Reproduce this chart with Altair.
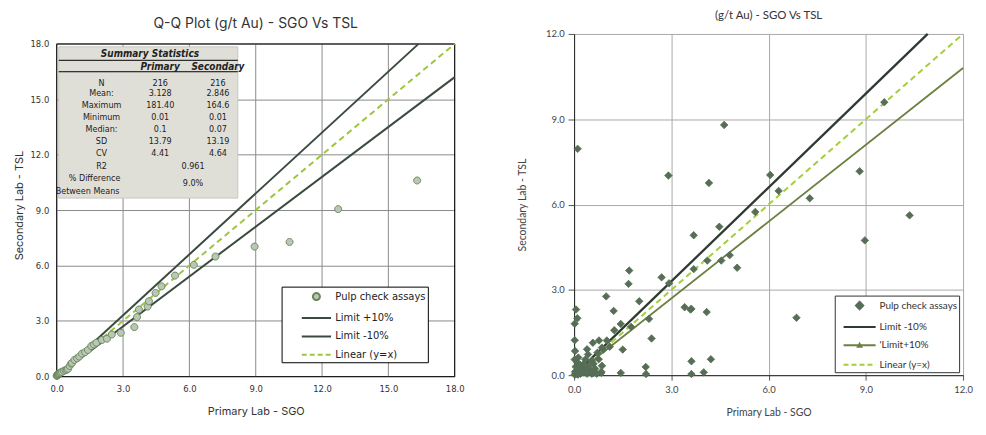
import altair as alt
import pandas as pd

# ---------------- data: left panel (Q-Q plot) ----------------
qq_sgo = [0.00, 0.01, 0.02, 0.03, 0.05, 0.06, 0.08, 0.10, 0.12, 0.15,
          0.18, 0.24, 0.32, 0.40, 0.46, 0.51, 0.58, 0.65, 0.69, 0.80,
          0.92, 1.02, 1.14, 1.28, 1.41, 1.56, 1.68, 1.79, 2.04, 2.27,
          2.49, 2.90, 3.51, 3.63, 3.72, 4.11, 4.17, 4.47, 4.74, 5.35,
          6.20, 7.18, 8.95, 10.53, 12.73, 16.30]
qq_tsl = [0.02, 0.03, 0.05, 0.06, 0.08, 0.11, 0.12, 0.13, 0.16, 0.18,
          0.20, 0.23, 0.29, 0.33, 0.36, 0.40, 0.55, 0.68, 0.72, 0.88,
          0.97, 1.06, 1.22, 1.30, 1.42, 1.63, 1.72, 1.81, 1.96, 2.03,
          2.26, 2.35, 2.66, 3.20, 3.61, 3.77, 4.06, 4.51, 4.87, 5.45,
          6.03, 6.48, 7.02, 7.27, 9.05, 10.60]

# ---------------- data: right panel (scatter) ----------------
pulp_sgo = [0.11, 2.91, 4.63, 4.16, 6.05, 6.31, 5.59, 4.48, 3.69, 7.27,
            8.81, 10.35, 8.97, 9.57, 4.80, 4.54, 4.11, 5.03, 3.69, 3.62,
            4.09, 6.86, 3.62, 4.22, 4.00, 3.62, 2.70, 2.93, 3.41, 3.59,
            2.31, 2.39, 2.21, 2.22, 2.01, 1.70, 1.68, 0.99, 1.22, 0.06,
            0.10, 0.02, 1.76, 1.44, 1.24, 1.01, 0.77, 0.58, 1.50, 0.02,
            0.03, 0.13, 0.40, 0.43, 0.72, 0.86, 0.84, 1.44, 0.55, 0.76,
            0.86, 0.25, 0.09, 0.35, 0.65, 0.84, 0.02, 0.05, 0.10, 0.15,
            0.20, 0.30, 0.40, 0.50, 0.60, 0.70, 0.05, 0.10, 0.20, 0.30,
            0.45, 0.60, 0.35, 0.02, 0.90, 1.10, 0.15, 0.25, 0.55, 0.12,
            0.03]
pulp_tsl = [7.96, 7.02, 8.80, 6.76, 7.04, 6.48, 5.74, 5.22, 4.92, 6.22,
            7.17, 5.62, 4.74, 9.60, 4.22, 4.03, 4.03, 3.78, 3.73, 2.33,
            2.22, 2.02, 0.49, 0.56, 0.10, 0.04, 3.44, 3.23, 2.39, 2.31,
            1.98, 1.29, 0.29, 0.04, 2.60, 3.68, 3.21, 2.77, 2.26, 2.31,
            2.00, 1.81, 1.70, 1.80, 1.58, 1.22, 1.22, 1.14, 0.90, 1.23,
            0.85, 0.62, 0.91, 0.73, 0.79, 0.97, 0.08, 0.08, 0.50, 0.56,
            0.33, 0.27, 0.15, 0.19, 0.23, 0.12, 0.02, 0.05, 0.03, 0.10,
            0.05, 0.10, 0.05, 0.15, 0.08, 0.05, 0.30, 0.45, 0.35, 0.40,
            0.30, 0.40, 0.55, 0.55, 0.90, 1.00, 0.20, 0.12, 0.05, 0.02,
            0.12]

# reference lines
limit_hi = 1.1
limit_lo = 0.9
left_max = 18
right_max = 12
left_ticks = [0, 3, 6, 9, 12, 15, 18]
right_ticks = [0, 3, 6, 9, 12]

# legend series
LEFT_SER = ["Pulp check assays", "Limit +10%", "Limit -10%", "Linear (y=x)"]
RIGHT_SER = ["Pulp check assays", "Limit -10%", "'Limit+10%", "Linear (y=x)"]

# summary statistics table
stat_labels = ["N", "Mean:", "Maximum", "Minimum", "Median:", "SD", "CV"]
stat_primary = ["216", "3.128", "181.40", "0.01", "0.1", "13.79", "4.41"]
stat_secondary = ["216", "2.846", "164.6", "0.01", "0.07", "13.19", "4.64"]
r2_value = "0.961"
pct_diff = "9.0%"

# ---------------- styling ----------------
LEFT_FONT = "DejaVu Sans"
RIGHT_FONT = "Lato"
DARK = "#3a4a3e"
YGREEN = "#9cc640"
NBSP = "\u00a0"

circle = "M-0.5,0A0.5,0.5,0,1,0,0.5,0A0.5,0.5,0,1,0,-0.5,0Z"
diamond = "M0,-0.53L0.53,0L0,0.53L-0.53,0Z"
hline = "M-2.1,0L2.1,0"
hline2 = "M-2.3,0L2.3,0"
hline_tri = "M-2.3,0L2.3,0M-0.25,0.22L0,-0.22L0.25,0.22Z"


def line_df(xmax, ymax, k):
    xe = min(xmax, ymax / k)
    return pd.DataFrame({"x": [0, xe], "y": [0, k * xe]})


# ================= LEFT PANEL =================
# plot area is 400 x 334; 10 extra (empty) pixels on top keep it level with the right panel
LW, LH, LTOP = 400, 344, 10
lx = alt.Scale(domain=[0, left_max], nice=False)
ly = alt.Scale(domain=[0, left_max * LH / (LH - LTOP)], nice=False, zero=True)
l_xaxis = alt.Axis(values=left_ticks, format=".1f", title="Primary Lab - SGO",
                   grid=False, ticks=False, domainColor="black", labelFlush=False,
                   labelFont=LEFT_FONT, labelFontSize=8.5, labelColor="#333",
                   labelPadding=8, titleFont="Inter", titleFontSize=11,
                   titleFontWeight="normal", titleColor="#333", titlePadding=13)
l_yaxis = alt.Axis(values=left_ticks, format=".1f", title="Secondary Lab - TSL",
                   grid=True, gridColor="#8a8a8a", gridWidth=1, ticks=False,
                   domain=False, labelFlush=False, labelFont=LEFT_FONT, labelFontSize=8.5,
                   labelColor="#333", labelPadding=8, titleFont="Inter",
                   titleFontSize=11, titleFontWeight="normal", titleColor="#333",
                   titlePadding=5)

l_grid = alt.Chart(pd.DataFrame({"t": left_ticks})).mark_rule(
    color="#8a8a8a", strokeWidth=1).encode(
    x=alt.X("t:Q", scale=lx, axis=l_xaxis), y=alt.datum(0, scale=ly, axis=l_yaxis),
    y2=alt.datum(left_max))
l_bl = alt.Chart(pd.DataFrame({"a": [0]})).mark_rule(color="black", strokeWidth=1).encode(
    x=alt.datum(0), y=alt.datum(0), y2=alt.datum(left_max))
l_br = alt.Chart(pd.DataFrame({"a": [0]})).mark_rule(color="black", strokeWidth=1).encode(
    x=alt.datum(left_max), y=alt.datum(0), y2=alt.datum(left_max))
l_bt = alt.Chart(pd.DataFrame({"a": [0]})).mark_rule(color="black", strokeWidth=1).encode(
    y=alt.datum(left_max), x=alt.datum(0), x2=alt.datum(left_max))

l_hi = alt.Chart(line_df(left_max, left_max, limit_hi)).mark_line(
    color=DARK, strokeWidth=2).encode(x="x:Q", y="y:Q")
l_lo = alt.Chart(line_df(left_max, left_max, limit_lo)).mark_line(
    color=DARK, strokeWidth=2).encode(x="x:Q", y="y:Q")
l_eq = alt.Chart(line_df(left_max, left_max, 1.0)).mark_line(
    color=YGREEN, strokeWidth=2, strokeDash=[6, 4]).encode(x="x:Q", y="y:Q")

left_legend = alt.Legend(title=None, orient="none", legendX=226, legendY=254,
                         padding=2, strokeColor="black", fillColor="white",
                         labelFont=LEFT_FONT, labelFontSize=10, labelColor="#222",
                         labelExpr="datum.label + '" + NBSP * 5 + "'",
                         symbolSize=196, symbolStrokeWidth=2, rowPadding=5.5,
                         labelOffset=11, symbolOffset=25, cornerRadius=0)
df_qq = pd.DataFrame({"sgo": qq_sgo, "tsl": qq_tsl, "series": LEFT_SER[0]})
l_pts = alt.Chart(df_qq).mark_point(size=196, opacity=1, strokeWidth=1).encode(
    x=alt.X("sgo:Q"),
    y=alt.Y("tsl:Q"),
    shape=alt.Shape("series:N", scale=alt.Scale(domain=LEFT_SER, range=[circle, hline, hline, hline]), legend=left_legend),
    fill=alt.Fill("series:N", scale=alt.Scale(domain=LEFT_SER, range=["#b9c8b4", "transparent", "transparent", "transparent"]), legend=left_legend),
    stroke=alt.Stroke("series:N", scale=alt.Scale(domain=LEFT_SER, range=["#6a865c", DARK, DARK, YGREEN]), legend=left_legend),
    strokeDash=alt.StrokeDash("series:N", scale=alt.Scale(domain=LEFT_SER, range=[[1, 0], [1, 0], [1, 0], [5, 3]]), legend=left_legend),
)

# summary table (pixel positions inside plot area)
col_x = [45, 104, 162]
row_y = [39, 49.5, 61, 73, 85.5, 97.5, 110]
cells = []
for i, lab in enumerate(stat_labels):
    cells.append({"px": col_x[0], "py": row_y[i] + LTOP, "t": lab})
    cells.append({"px": col_x[1], "py": row_y[i] + LTOP, "t": stat_primary[i]})
    cells.append({"px": col_x[2], "py": row_y[i] + LTOP, "t": stat_secondary[i]})
cells.append({"px": col_x[0], "py": 122.3 + LTOP, "t": "R2"})
cells.append({"px": 137, "py": 122.3 + LTOP, "t": r2_value})
cells.append({"px": 38, "py": 134.7 + LTOP, "t": "% Difference"})
cells.append({"px": 31, "py": 147.7 + LTOP, "t": "Between Means"})
cells.append({"px": 137, "py": 140.3 + LTOP, "t": pct_diff})
df_cells = pd.DataFrame(cells)
df_head = pd.DataFrame([
    {"px": 93.7, "py": 10.3 + LTOP, "t": "Summary Statistics"},
    {"px": col_x[1], "py": 23 + LTOP, "t": "Primary"},
    {"px": col_x[2], "py": 23 + LTOP, "t": "Secondary"},
])
TFONT = "Liberation Sans Narrow, DejaVu Sans Condensed, Liberation Sans"
one = pd.DataFrame({"a": [0]})
t_box = alt.Chart(one).mark_rect(fill="#e0dfd7", stroke="#c8c7bf").encode(
    x=alt.value(2), x2=alt.value(182), y=alt.value(3 + LTOP), y2=alt.value(155 + LTOP))
t_rule1 = alt.Chart(one).mark_rule(color="black", strokeWidth=1).encode(
    x=alt.value(2), x2=alt.value(182), y=alt.value(16.5 + LTOP))
t_rule2 = alt.Chart(one).mark_rule(color="black", strokeWidth=1).encode(
    x=alt.value(2), x2=alt.value(182), y=alt.value(28 + LTOP))
t_text = alt.Chart(df_cells).mark_text(font=TFONT, fontSize=9, color="#222",
                                       align="center", baseline="middle").encode(
    x=alt.X("px:Q", scale=None), y=alt.Y("py:Q", scale=None), text="t:N")
t_head = alt.Chart(df_head).mark_text(font=TFONT, fontSize=10, color="#222", fontWeight="bold",
                                      fontStyle="italic", align="center", baseline="middle").encode(
    x=alt.X("px:Q", scale=None), y=alt.Y("py:Q", scale=None), text="t:N")

left = alt.layer(
    alt.layer(l_grid, l_bl, l_br, l_bt, l_hi, l_lo, l_eq, l_pts),
    alt.layer(t_box, t_rule1, t_rule2, t_text, t_head),
).resolve_scale(x="independent", y="independent").properties(
    width=LW, height=LH,
    view=alt.ViewBackground(stroke="transparent"),
    title=alt.TitleParams("Q-Q Plot (g/t Au) - SGO Vs TSL", font="Inter", fontSize=14,
                          fontWeight="normal", color="#333", offset=3, anchor="middle"),
)

# ================= RIGHT PANEL =================
RW, RH = 391, 343
rx = alt.Scale(domain=[0, right_max], nice=False)
ry = alt.Scale(domain=[0, right_max], nice=False)
r_xaxis = alt.Axis(values=right_ticks, format=".1f", title="Primary Lab - SGO",
                   grid=True, gridColor="#a8a8a8", gridWidth=1, ticks=True, tickSize=5,
                   tickColor="#555", domainColor="#222", labelFlush=False,
                   labelFont=RIGHT_FONT, labelFontSize=9.5, labelColor="#444",
                   labelPadding=4, titleFont=RIGHT_FONT, titleFontSize=10.5,
                   titleFontWeight="normal", titleColor="#444", titlePadding=14)
r_yaxis = alt.Axis(values=right_ticks, format=".1f", title="Secondary Lab - TSL",
                   grid=True, gridColor="#a8a8a8", gridWidth=1, ticks=True, tickSize=6,
                   tickColor="#555", domainColor="#222", labelFlush=False,
                   labelFont=RIGHT_FONT, labelFontSize=9.5, labelColor="#444",
                   labelPadding=4, titleFont=RIGHT_FONT, titleFontSize=10.5,
                   titleFontWeight="normal", titleColor="#444", titlePadding=18)

r_hi = alt.Chart(line_df(right_max, right_max, limit_hi)).mark_line(
    color="#2f3a33", strokeWidth=2.3).encode(
    x=alt.X("x:Q", scale=rx, axis=r_xaxis), y=alt.Y("y:Q", scale=ry, axis=r_yaxis))
r_lo = alt.Chart(line_df(right_max, right_max, limit_lo)).mark_line(
    color="#6b8040", strokeWidth=1.8).encode(x="x:Q", y="y:Q")
r_eq = alt.Chart(line_df(right_max, right_max, 1.0)).mark_line(
    color="#a2cf3a", strokeWidth=2, strokeDash=[6, 4]).encode(x="x:Q", y="y:Q")

right_legend = alt.Legend(title=None, orient="none", legendX=262, legendY=263,
                          padding=2, strokeColor="#333", fillColor="white",
                          labelFont=RIGHT_FONT, labelFontSize=10, labelColor="#333",
                          labelExpr="datum.label + '" + NBSP * 2 + "'",
                          symbolSize=196, symbolStrokeWidth=2, rowPadding=5.5,
                          labelOffset=12, symbolOffset=15, cornerRadius=0)
df_pulp = pd.DataFrame({"sgo": pulp_sgo, "tsl": pulp_tsl, "series": RIGHT_SER[0]})
PT = "#566e56"
r_pts = alt.Chart(df_pulp).mark_point(size=196, opacity=1, strokeWidth=1).encode(
    x=alt.X("sgo:Q"),
    y=alt.Y("tsl:Q"),
    shape=alt.Shape("series:N", scale=alt.Scale(domain=RIGHT_SER, range=[diamond, hline2, hline_tri, hline2]), legend=right_legend),
    fill=alt.Fill("series:N", scale=alt.Scale(domain=RIGHT_SER, range=[PT, "transparent", "transparent", "transparent"]), legend=right_legend),
    stroke=alt.Stroke("series:N", scale=alt.Scale(domain=RIGHT_SER, range=[PT, "#2f3a33", "#6b8040", "#a2cf3a"]), legend=right_legend),
    strokeDash=alt.StrokeDash("series:N", scale=alt.Scale(domain=RIGHT_SER, range=[[1, 0], [1, 0], [1, 0], [5, 3]]), legend=right_legend),
)

right = alt.layer(r_hi, r_lo, r_eq, r_pts).properties(
    width=RW, height=RH,
    view=alt.ViewBackground(stroke="transparent"),
    title=alt.TitleParams("(g/t Au) - SGO Vs TSL", font=RIGHT_FONT, fontSize=11.5,
                          fontWeight="normal", color="#333", offset=8, anchor="middle"),
)

chart = alt.hconcat(left, right, spacing=52).resolve_scale(
    shape="independent", fill="independent", stroke="independent",
    strokeDash="independent").properties(
    padding={"left": 5, "top": 0, "right": 5, "bottom": 5}
).configure(background="white")
chart.save("out.html", embed_options={"renderer": "svg", "actions": False})
